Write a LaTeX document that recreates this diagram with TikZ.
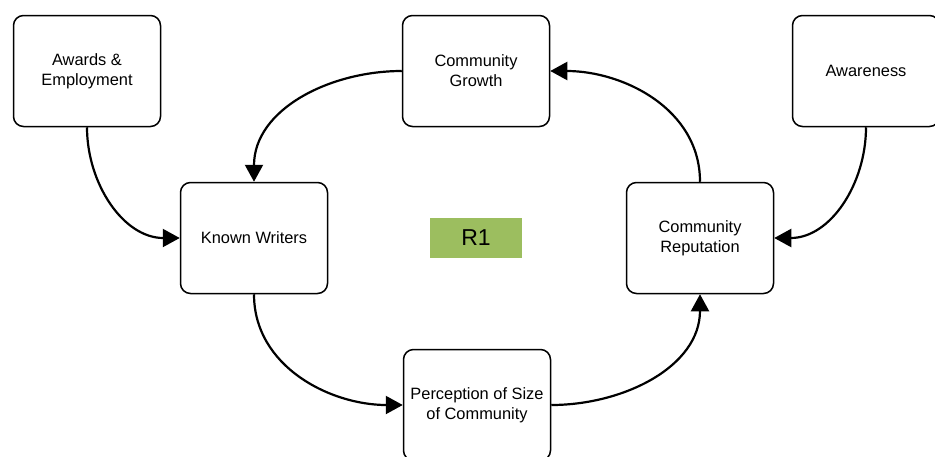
\documentclass[tikz,border=0pt]{standalone}
\usepackage{fontspec}
\setmainfont{Liberation Sans}
\usetikzlibrary{arrows.meta}
\definecolor{loopgreen}{RGB}{156,190,95}
\tikzset{
  factor/.style={draw=black, line width=1.5pt, rounded corners=10pt, fill=white,
    minimum width=147pt, minimum height=111pt, align=center,
    font=\fontsize{16.4}{20}\selectfont, inner sep=2pt},
  link/.style={draw=black, line width=2.2pt, -{Triangle[length=17pt,width=18pt]}},
  looptag/.style={fill=loopgreen, minimum width=92pt, minimum height=40pt,
    font=\fontsize{23}{26}\selectfont},
}
\begin{document}
\begin{tikzpicture}[x=1pt,y=-1pt]
  \useasboundingbox[fill=white] (0,0) rectangle (935,456);

  % factors of the loop
  \node[factor] (awards)  at (87,71)   {Awards \&\\Employment};
  \node[factor] (growth)  at (476,71)  {Community\\Growth};
  \node[factor] (aware)   at (866,71)  {Awareness};
  \node[factor] (writers) at (254,238) {Known Writers};
  \node[factor] (reput)   at (700,238) {Community\\Reputation};
  \node[factor] (percep)  at (477,405) {Perception of Size\\of Community};

  % loop label
  \node[looptag] (r1) at (476,238) {R1};

  % reinforcing loop
  \draw[link] (growth.west) to[out=180,in=90] (writers.north);
  \draw[link] (writers.south) to[out=-90,in=180] (percep.west);
  \draw[link] (percep.east) to[out=0,in=-90] (reput.south);
  \draw[link] (reput.north) to[out=90,in=0] (growth.east);

  % outside influences
  \draw[link] (awards.south) to[out=-90,in=180] (writers.west);
  \draw[link] (aware.south) to[out=-90,in=0] (reput.east);
\end{tikzpicture}
\end{document}
